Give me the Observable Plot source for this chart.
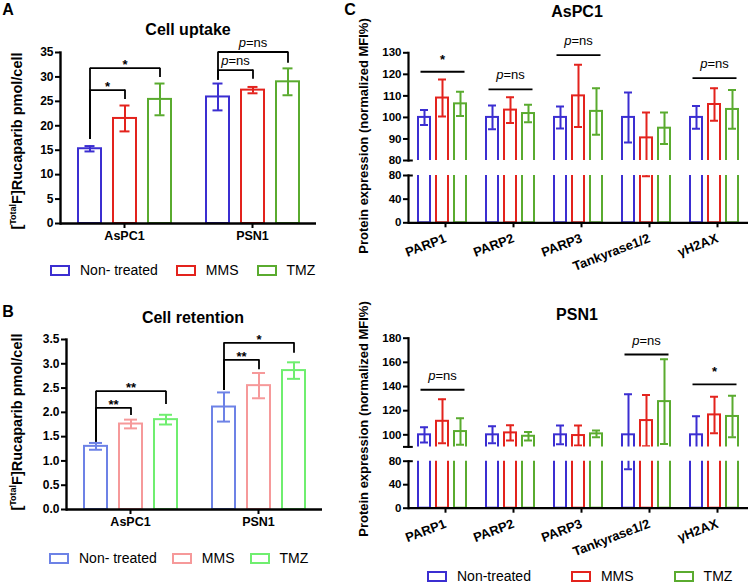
<!DOCTYPE html>
<html>
<head>
<meta charset="utf-8">
<script src="https://cdn.jsdelivr.net/npm/d3@7"></script>
<script src="https://cdn.jsdelivr.net/npm/@observablehq/plot@0.6"></script>
<style>
  body { margin: 0; background: #fff; }
  #fig { position: relative; width: 749px; height: 584px; overflow: hidden; background: #fff;
         font-family: "Liberation Sans", Arial, Helvetica, sans-serif; color: #000; }
  .lab { position: absolute; transform: translate(-50%, -50%); white-space: nowrap; line-height: 1; }
  .rot { position: absolute; transform: translate(-50%, -50%) rotate(-90deg); white-space: nowrap; line-height: 1; font-weight: bold; }
  .rot sup { font-size: 0.62em; vertical-align: 0.6em; line-height: 0; }
</style>
</head>
<body>
<div id="fig"></div>
<script>
// ---------------- data ----------------
const treatments = ["Non-treated", "MMS", "TMZ"];
const legendLabelsAB = ["Non- treated", "MMS", "TMZ"];
const legendLabelsC = ["Non-treated", "MMS", "TMZ"];
const cellLines = ["AsPC1", "PSN1"];
const proteins = ["PARP1", "PARP2", "PARP3", "Tankyrase1/2", "γH2AX"];
const colorsDark = ["#3b2ed1", "#e3231d", "#5aab2f"];
const colorsLight = ["#6d82e6", "#f6999a", "#6fee6f"];

// Panel A: cell uptake  (rows: cell line, cols: treatment)
const uptakeMean = [[15.3, 21.5, 25.4], [25.9, 27.3, 29.0]];
const uptakeErr  = [[0.55, 2.65, 3.25], [2.75, 0.65, 2.75]];
const uptakeTicks = [0, 5, 10, 15, 20, 25, 30, 35];
const uptakeBrackets = [
  {cell: "AsPC1", from: "Non-treated", to: "MMS", top: 27.3, fromBase: 17.2, toBase: 25.4, label: "*"},
  {cell: "AsPC1", from: "Non-treated", to: "TMZ", top: 31.8, fromBase: 17.2, toBase: 29.9, label: "*"},
  {cell: "PSN1",  from: "Non-treated", to: "MMS", top: 31.4, fromBase: 29.3, toBase: 29.5, label: "p=ns"},
  {cell: "PSN1",  from: "Non-treated", to: "TMZ", top: 35.1, fromBase: 29.3, toBase: 32.8, label: "p=ns"}
];

// Panel B: cell retention
const retentionMean = [[1.30, 1.76, 1.85], [2.11, 2.55, 2.86]];
const retentionErr  = [[0.07, 0.09, 0.10], [0.30, 0.26, 0.17]];
const retentionTicks = [0, 0.5, 1.0, 1.5, 2.0, 2.5, 3.0, 3.5];
const retentionBrackets = [
  {cell: "AsPC1", from: "Non-treated", to: "MMS", top: 2.094, fromBase: 1.386, toBase: 1.935, label: "**"},
  {cell: "AsPC1", from: "Non-treated", to: "TMZ", top: 2.436, fromBase: 1.386, toBase: 2.162, label: "**"},
  {cell: "PSN1",  from: "Non-treated", to: "MMS", top: 3.082, fromBase: 2.45,  toBase: 2.876, label: "**"},
  {cell: "PSN1",  from: "Non-treated", to: "TMZ", top: 3.432, fromBase: 2.45,  toBase: 3.218, label: "*"}
];

// Panel C: protein expression (rows: protein, cols: treatment)
const aspcMean = [[100, 109.0, 106.3], [100, 103.4, 101.8], [100, 110.0, 102.8], [100, 90.5, 95.0], [100, 106.0, 103.7]];
const aspcErr  = [[3.5, 8.6, 5.6], [5.5, 6.0, 4.1], [5.1, 14.5, 10.8], [11.6, 11.8, 7.3], [5.3, 7.5, 9.0]];
const aspcBrackets = [
  {protein: "PARP1", top: 121.2, label: "*"},
  {protein: "PARP2", top: 113.0, label: "p=ns"},
  {protein: "PARP3", top: 128.9, label: "p=ns"},
  {protein: "γH2AX", top: 118.2, label: "p=ns"}
];
const psnMean = [[100, 111.2, 102.7], [100, 101.6, 98.8], [100, 99.4, 100.8], [100, 111.8, 127.5], [100, 116.5, 115.2]];
const psnErr  = [[6.3, 18.2, 11.0], [7.0, 6.3, 3.5], [7.8, 8.3, 2.8], [33.5, 21.2, 35.0], [15.4, 15.1, 17.2]];
const psnBrackets = [
  {protein: "PARP1", top: 137.3, label: "p=ns"},
  {protein: "Tankyrase1/2", top: 166.5, label: "p=ns"},
  {protein: "γH2AX", top: 141.7, label: "*"}
];
const aspcUpperTicks = [80, 90, 100, 110, 120, 130];
const psnUpperTicks = [90, 100, 120, 140, 160, 180];
const psnUnlabeledTicks = [90];
const lowerTicks = [0, 40, 80];

// ---------------- helpers ----------------
const FONT = "'Liberation Sans', Arial, Helvetica, sans-serif";
const fig = document.getElementById("fig");

function rowsFrom(groups, key, means, errs) {
  return groups.flatMap((g, i) => treatments.map((t, j) => ({[key]: g, treatment: t, mean: means[i][j], err: errs[i][j]})));
}
function place(el, left, top) {
  el.style.position = "absolute";
  el.style.left = left + "px";
  el.style.top = top + "px";
  fig.appendChild(el);
}
function baseStyle() {
  return {background: "transparent", overflow: "visible", fontFamily: FONT, fontSize: "12px", fontWeight: "bold", color: "#000"};
}
function barMarks(rows, fxKey, capInset, clip) {
  const common = {fx: fxKey, x: "treatment", stroke: "treatment", strokeWidth: 2, clip};
  return [
    Plot.barY(rows, {...common, y1: 0, y2: "mean", fill: "white"}),
    Plot.ruleX(rows, {...common, y1: d => d.mean - d.err, y2: d => d.mean + d.err}),
    Plot.tickY(rows, {...common, y: d => d.mean + d.err, inset: capInset}),
    Plot.tickY(rows, {...common, y: d => d.mean - d.err, inset: capInset})
  ];
}
function labelMarks(data, fxKey, xKey, dx, dyStar, dyNs, size) {
  const stars = data.filter(d => d.label !== "p=ns");
  const ns = data.filter(d => d.label === "p=ns");
  const pOff = 0.542 * size;
  const common = {fx: fxKey, x: xKey, y: "top", lineAnchor: "bottom", fontSize: size};
  return [
    Plot.text(stars, {...common, text: "label", dx, dy: dyStar, fontWeight: "bold"}),
    Plot.text(ns, {...common, text: () => "p", dx: dx - pOff, dy: dyNs, textAnchor: "end", fontStyle: "italic", fontWeight: "normal"}),
    Plot.text(ns, {...common, text: () => "=ns", dx: dx - pOff, dy: dyNs, textAnchor: "start", fontWeight: "normal"})
  ];
}
function bracketMarks(br, fxKey, halfStep, dyStar, dyNs, size) {
  const toMMS = br.filter(d => d.to === "MMS");
  const toTMZ = br.filter(d => d.to === "TMZ");
  return [
    Plot.link(br, {fx: fxKey, x1: "from", x2: "to", y1: "top", y2: "top", strokeWidth: 1.8}),
    Plot.ruleX(br, {fx: fxKey, x: "from", y1: "fromBase", y2: "top", strokeWidth: 1.8}),
    Plot.ruleX(br, {fx: fxKey, x: "to", y1: "toBase", y2: "top", strokeWidth: 1.8}),
    ...labelMarks(toMMS, fxKey, "from", halfStep, dyStar, dyNs, size),
    ...labelMarks(toTMZ, fxKey, () => "MMS", 0, dyStar, dyNs, size)
  ];
}
function abPanel(rows, colors, brackets, ticks, fmt, domain, dims, dyStar, dyNs) {
  const xPad = {paddingInner: 0.343, paddingOuter: 0.5};
  const facetW = (dims.width - dims.marginLeft - dims.marginRight) / cellLines.length;
  const halfStep = facetW / (treatments.length - xPad.paddingInner + 2 * xPad.paddingOuter) / 2;
  return Plot.plot({
    ...dims,
    style: baseStyle(),
    fx: {domain: cellLines, padding: 0, label: null},
    x: {domain: treatments, ...xPad, axis: null},
    y: {domain, label: null, axis: null},
    color: {domain: treatments, range: colors},
    marks: [
      ...barMarks(rows, "cell", dims.capInset, false),
      Plot.ruleY([0], {strokeWidth: 2.4}),
      Plot.frame({anchor: "left", facetAnchor: "left", strokeWidth: 2.4}),
      Plot.axisY({ticks, tickFormat: fmt, tickSize: 5, tickPadding: 2, strokeWidth: 2, fontSize: 12, label: null}),
      Plot.axisFx({anchor: "bottom", tickSize: 5, tickPadding: 3, strokeWidth: 2, fontSize: 12.5, label: null}),
      ...bracketMarks(brackets, "cell", halfStep, dyStar, dyNs, 13)
    ]
  });
}

const C_WIDTH = 409, C_ML = 67, C_MR = 1;
const C_FACET_W = (C_WIDTH - C_ML - C_MR) / proteins.length;
const BREAK_CAP = 5;
const cX = {domain: treatments, paddingInner: 0.32, paddingOuter: 0.45, axis: null};

function cUpper(rows, brackets, domain, ticks, fmt, height, mTop, mBottom) {
  return Plot.plot({
    width: C_WIDTH, height, marginLeft: C_ML, marginRight: C_MR, marginTop: mTop, marginBottom: mBottom,
    style: baseStyle(),
    fx: {domain: proteins, padding: 0, label: null, axis: null},
    x: cX,
    y: {domain, label: null, axis: null},
    color: {domain: treatments, range: colorsDark},
    marks: [
      ...barMarks(rows, "protein", 2, true),
      Plot.frame({anchor: "left", facetAnchor: "left", strokeWidth: 2.2}),
      Plot.ruleY([domain[0]], {facetAnchor: "left", insetRight: C_FACET_W - BREAK_CAP, strokeWidth: 2}),
      Plot.axisY({ticks, tickFormat: fmt, tickSize: 5, tickPadding: 2, strokeWidth: 2, fontSize: 11.5, label: null}),
      Plot.ruleY(brackets, {fx: "protein", y: "top", x1: () => "Non-treated", x2: () => "TMZ", insetLeft: 2.5, insetRight: 1.5, strokeWidth: 1.8}),
      ...labelMarks(brackets, "protein", () => "MMS", 0, -8, -10, 13)
    ]
  });
}
function cLower(rows, height, mTop, mBottom) {
  return Plot.plot({
    width: C_WIDTH, height, marginLeft: C_ML, marginRight: C_MR, marginTop: mTop, marginBottom: mBottom,
    style: baseStyle(),
    fx: {domain: proteins, padding: 0, label: null},
    x: cX,
    y: {domain: [0, 80], label: null, axis: null},
    color: {domain: treatments, range: colorsDark},
    marks: [
      ...barMarks(rows, "protein", 2, true),
      Plot.ruleY([0], {strokeWidth: 2.2}),
      Plot.frame({anchor: "left", facetAnchor: "left", strokeWidth: 2.2}),
      Plot.ruleY([80], {facetAnchor: "left", insetRight: C_FACET_W - BREAK_CAP, strokeWidth: 2}),
      Plot.axisY({ticks: lowerTicks, tickSize: 5, tickPadding: 2, strokeWidth: 2, fontSize: 11.5, label: null}),
      Plot.axisFx({anchor: "bottom", tickSize: 5, tickPadding: 10, dx: 3, tickRotate: -21, strokeWidth: 2, fontSize: 13, label: null})
    ]
  });
}

function text(html, cx, cy, css) {
  const d = document.createElement("div");
  d.className = "lab";
  d.innerHTML = html;
  d.style.left = cx + "px";
  d.style.top = cy + "px";
  d.style.cssText += css;
  fig.appendChild(d);
}
function rotLabel(html, cx, cy, size) {
  const d = document.createElement("div");
  d.className = "rot";
  d.innerHTML = html;
  d.style.left = cx + "px";
  d.style.top = cy + "px";
  d.style.fontSize = size + "px";
  fig.appendChild(d);
}
function legend(labels, colors, left, cy, boxGap, itemGap) {
  const div = document.createElement("div");
  div.style.cssText = `position:absolute;left:${left}px;top:${cy}px;transform:translateY(-50%);display:flex;align-items:center;font-size:14px;white-space:nowrap;line-height:1;`;
  labels.forEach((l, i) => {
    const box = document.createElement("span");
    box.style.cssText = `display:inline-block;box-sizing:border-box;width:20px;height:11px;border:2px solid ${colors[i]};margin-right:${boxGap}px;`;
    const t = document.createElement("span");
    t.textContent = l;
    t.style.marginRight = (i < labels.length - 1 ? itemGap : 0) + "px";
    div.appendChild(box);
    div.appendChild(t);
  });
  fig.appendChild(div);
}

// ---------------- panels ----------------
const rowsA = rowsFrom(cellLines, "cell", uptakeMean, uptakeErr);
const rowsB = rowsFrom(cellLines, "cell", retentionMean, retentionErr);
const rowsC1 = rowsFrom(proteins, "protein", aspcMean, aspcErr);
const rowsC2 = rowsFrom(proteins, "protein", psnMean, psnErr);

place(abPanel(rowsA, colorsDark, uptakeBrackets, uptakeTicks, d => d, [0, 35],
  {width: 340, height: 250, marginLeft: 60, marginRight: 24, marginTop: 52, marginBottom: 27, capInset: 6.5}, 1, -5), 0, 0);

place(abPanel(rowsB, colorsLight, retentionBrackets, retentionTicks, d3.format(".1f"), [0, 3.5],
  {width: 340, height: 245, marginLeft: 66, marginRight: 18, marginTop: 49, marginBottom: 26, capInset: 5}, 1, -5), 0, 290);

place(cUpper(rowsC1, aspcBrackets, [80, 130], aspcUpperTicks, d => d, 165, 52.3, 5), 340, 0);
place(cLower(rowsC1, 115, 5, 62.7), 340, 170);
place(cUpper(rowsC2, psnBrackets, [90, 180], psnUpperTicks, d => (psnUnlabeledTicks.includes(d) ? "" : d), 160, 47.7, 3.6), 340, 290);
place(cLower(rowsC2, 115, 5.7, 62.3), 340, 455);

// titles and panel letters
text("A", 8, 10, "font-size:16px;font-weight:bold;");
text("B", 8, 312, "font-size:16px;font-weight:bold;");
text("C", 350, 10, "font-size:16px;font-weight:bold;");
text("Cell uptake", 188, 30, "font-size:16px;font-weight:bold;");
text("Cell retention", 193, 318, "font-size:16px;font-weight:bold;");
text("AsPC1", 577, 12, "font-size:16px;font-weight:bold;");
text("PSN1", 577, 315, "font-size:16px;font-weight:bold;");

// axis titles
rotLabel("[<sup>Total</sup>F]Rucaparib pmol/cell", 17, 141, 14.5);
rotLabel("[<sup>Total</sup>F]Rucaparib pmol/cell", 17, 422, 14.5);
rotLabel("Protein expression (normalized MFI%)", 363, 136, 13);
rotLabel("Protein expression (normalized MFI%)", 363, 419, 13);

// legends
legend(legendLabelsAB, colorsDark, 50, 270, 10, 18);
legend(legendLabelsAB, colorsLight, 49, 558, 10, 15);
legend(legendLabelsC, colorsDark, 427, 576, 10, 40);
</script>
</body>
</html>
